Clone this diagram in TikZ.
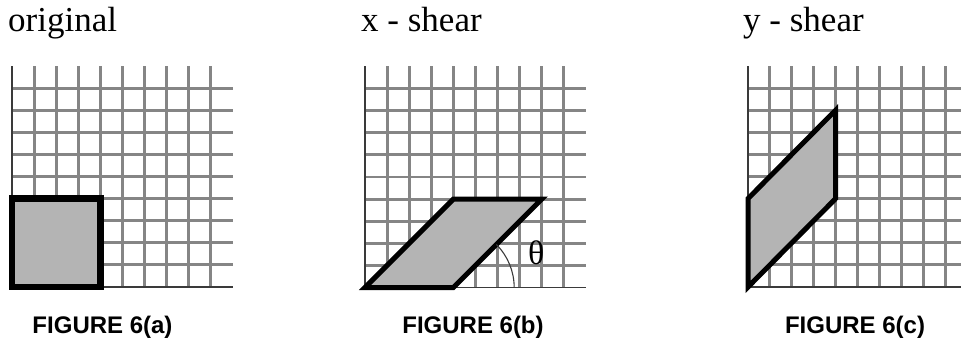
\documentclass[tikz,border=0pt]{standalone}
\usepackage{fontspec}
\setmainfont{Liberation Serif}
\newfontfamily\capfont{Liberation Sans}
\definecolor{gridgray}{HTML}{858585}
\definecolor{axisgray}{HTML}{3A3A3A}
\definecolor{shapefill}{HTML}{B4B4B4}
\begin{document}
\begin{tikzpicture}[x=1pt,y=-1pt,
  gridline/.style={draw=gridgray,line width=2.9pt},
  axisline/.style={draw=axisgray,line width=1.6pt},
  shapeline/.style={draw=black,line width=5pt,fill=shapefill,line join=miter},
  toplabel/.style={anchor=base west,inner sep=0pt,font=\fontsize{35}{40}\selectfont},
  figcaption/.style={anchor=base,inner sep=0pt,font=\capfont\bfseries\fontsize{24}{28}\selectfont},
  pics/shgrid/.style={code={
    \foreach \i in {1,...,9} \draw[gridline] (\i,0) -- (\i,10);
    \foreach \j in {1,...,9} \draw[gridline] (0,\j) -- (10,\j);
    \draw[axisline] (0,0) -- (10,0);
    \draw[axisline] (0,0) -- (0,10);
  }}]
\useasboundingbox (0,0) rectangle (961,339);

% labels
\node[toplabel] (ta) at (8,32) {original};
\node[toplabel] (tb) at (361,32) {x - shear};
\node[toplabel] (tc) at (743,32) {y - shear};
\node[figcaption] (ca) at (102.5,333) {FIGURE 6(a)};
\node[figcaption] (cb) at (473,333) {FIGURE 6(b)};
\node[figcaption] (cc) at (855,333) {FIGURE 6(c)};

% (a) original
\begin{scope}[shift={(12,287)},x=22.1pt,y=22.1pt]
  \pic {shgrid};
  \draw[shapeline,line width=6.5pt] (0,0) -- (4,0) -- (4,4) -- (0,4) -- cycle;
\end{scope}

% (b) x-shear
\begin{scope}[shift={(365,287.5)},x=22.1pt,y=22.1pt]
  \pic {shgrid};
  \draw[shapeline] (0,0) -- (4,0) -- (8,4) -- (4,4) -- cycle;
  \coordinate (bc) at (4,0);
  \draw[draw=axisgray,line width=1.1pt] (bc) ++(45:2.75) arc[start angle=45,end angle=0,radius=2.75];
  \node[inner sep=0pt,font=\fontsize{34}{36}\selectfont] (th) at (7.75,1.55) {θ};
\end{scope}

% (c) y-shear
\begin{scope}[shift={(748,287)},x=21.9pt,y=22.1pt]
  \pic {shgrid};
  \draw[shapeline] (0,0) -- (4,4) -- (4,8) -- (0,4) -- cycle;
\end{scope}
\end{tikzpicture}
\end{document}
